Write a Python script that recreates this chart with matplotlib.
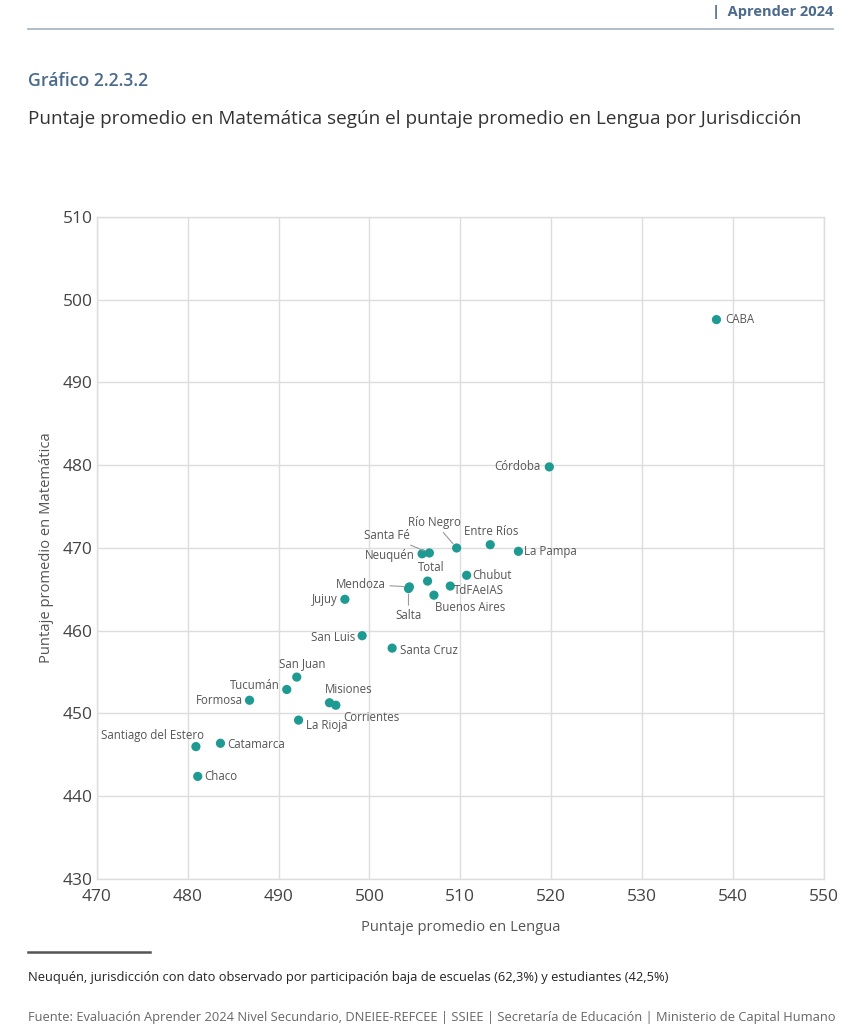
import matplotlib
matplotlib.use("Agg")
import matplotlib.pyplot as plt

plt.rcParams['font.family'] = ['Open Sans', 'DejaVu Sans']

jurisdicciones = ["CABA", "Córdoba", "Entre Ríos", "La Pampa", "Río Negro", "Santa Fé",
                  "Neuquén", "Chubut", "Total", "TdFAeIAS", "Mendoza", "Salta",
                  "Buenos Aires", "Jujuy", "San Luis", "Santa Cruz", "San Juan",
                  "Tucumán", "Formosa", "Misiones", "Corrientes", "La Rioja",
                  "Santiago del Estero", "Catamarca", "Chaco"]
lengua = [538.2, 519.8, 513.3, 516.4, 509.6, 506.6,
          505.8, 510.7, 506.4, 508.9, 504.4, 504.3,
          507.1, 497.3, 499.2, 502.5, 492.0,
          490.9, 486.8, 495.6, 496.3, 492.2,
          480.9, 483.6, 481.1]
matematica = [497.6, 479.8, 470.4, 469.6, 470.0, 469.4,
              469.3, 466.7, 466.0, 465.4, 465.3, 465.1,
              464.3, 463.8, 459.4, 457.9, 454.4,
              452.9, 451.6, 451.3, 451.0, 449.2,
              446.0, 446.4, 442.4]

x_ticks = [470, 480, 490, 500, 510, 520, 530, 540, 550]
y_ticks = [430, 440, 450, 460, 470, 480, 490, 500, 510]

# label placement: (dx, dy) in points, ha, va, leader line
placement = {
    "CABA": (6, 0, "left", "center", False),
    "Córdoba": (-6, 0, "right", "center", False),
    "Entre Ríos": (1, 5, "center", "bottom", False),
    "La Pampa": (4, 0, "left", "center", False),
    "Río Negro": (-16, 14, "center", "bottom", True),
    "Santa Fé": (-14, 8, "right", "bottom", True),
    "Neuquén": (-5, -1, "right", "center", False),
    "Chubut": (4, 0, "left", "center", False),
    "Total": (3, 5, "center", "bottom", False),
    "TdFAeIAS": (3, -3, "left", "center", False),
    "Mendoza": (-17, 2, "right", "center", True),
    "Salta": (0, -15, "center", "top", True),
    "Buenos Aires": (1, -4, "left", "top", False),
    "Jujuy": (-5, 0, "right", "center", False),
    "San Luis": (-5, -1, "right", "center", False),
    "Santa Cruz": (6, -2, "left", "center", False),
    "San Juan": (4, 5, "center", "bottom", False),
    "Tucumán": (-5, 3, "right", "center", False),
    "Formosa": (-5, 0, "right", "center", False),
    "Misiones": (-3, 5, "left", "bottom", False),
    "Corrientes": (5, -4, "left", "top", False),
    "La Rioja": (5, -4, "left", "center", False),
    "Santiago del Estero": (6, 3, "right", "bottom", False),
    "Catamarca": (5, -1, "left", "center", False),
    "Chaco": (5, 0, "left", "center", False),
}

fig = plt.figure(figsize=(8.5, 10.24), dpi=100)
ax = fig.add_axes([0.114, 0.1416, 0.855, 0.6465])

teal = "#1e9a92"
ax.scatter(lengua, matematica, s=44, color=teal, zorder=3, edgecolors="none")

for name, xv, yv in zip(jurisdicciones, lengua, matematica):
    dx, dy, ha, va, line = placement[name]
    kw = {}
    if line:
        kw["arrowprops"] = dict(arrowstyle="-", color="#9a9a9a", lw=0.8,
                                shrinkA=1, shrinkB=4)
    ax.annotate(name, (xv, yv), xytext=(dx, dy), textcoords="offset points",
                ha=ha, va=va, fontsize=8.3, color="#555555", zorder=4, **kw)

ax.set_xlim(470, 550)
ax.set_ylim(430, 510)
ax.set_xticks(x_ticks)
ax.set_yticks(y_ticks)
ax.tick_params(length=0, labelsize=12.5, colors="#444444")
ax.tick_params(axis="x", pad=7)
ax.tick_params(axis="y", pad=3)
for lbl in ax.get_yticklabels():
    lbl.set_verticalalignment("center_baseline")
ax.grid(True, color="#dddddd", lw=1)
ax.set_axisbelow(True)
for s in ax.spines.values():
    s.set_color("#dddddd")
    s.set_linewidth(1)
ax.set_xlabel("Puntaje promedio en Lengua", fontsize=10.6, color="#555555", labelpad=11)
ax.set_ylabel("Puntaje promedio en Matemática", fontsize=10.6, color="#555555", labelpad=6)

# Header
fig.text(0.98, 0.988, "|  Aprender 2024", ha="right", va="center", fontsize=10.5,
         color="#4b6a8c", fontweight="bold")
fig.add_artist(plt.Line2D([0.033, 0.98], [0.972, 0.972], color="#a9b7c6", lw=1.3))
fig.text(0.033, 0.921, "Gráfico 2.2.3.2", ha="left", va="center", fontsize=12.7,
         color="#4b6a8c", fontweight="semibold")
fig.text(0.033, 0.884, "Puntaje promedio en Matemática según el puntaje promedio en Lengua por Jurisdicción",
         ha="left", va="center", fontsize=13.6, color="#333333")

# Footer
fig.add_artist(plt.Line2D([0.033, 0.176], [0.0705, 0.0705], color="#555555", lw=1.8))
fig.text(0.033, 0.045, "Neuquén, jurisdicción con dato observado por participación baja de escuelas (62,3%) y estudiantes (42,5%)",
         ha="left", va="center", fontsize=9.3, color="#222222")
fig.text(0.033, 0.006, "Fuente: Evaluación Aprender 2024 Nivel Secundario, DNEIEE-REFCEE | SSIEE | Secretaría de Educación | Ministerio de Capital Humano",
         ha="left", va="center", fontsize=9.3, color="#666666")

fig.savefig("out.png", dpi=100, facecolor="white")
